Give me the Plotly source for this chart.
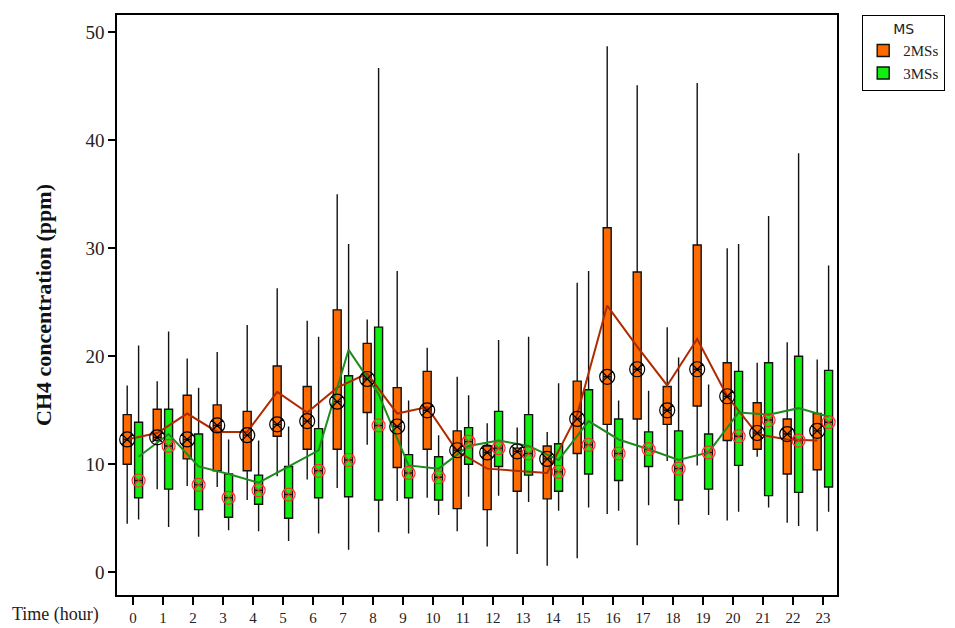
import plotly.graph_objects as go

hours = list(range(24))

# 2MSs (orange) box statistics
ms2_low = [4.5, 7.7, 8.0, 7.9, 6.7, 8.9, 8.6, 7.8, 11.8, 6.6, 6.9, 3.8, 2.4, 1.7, 0.6, 1.3, 5.4, 2.5, 10.3, 9.9, 4.8, 10.7, 4.6, 3.8]
ms2_q1 = [10.0, 12.2, 10.5, 9.4, 9.4, 12.6, 11.4, 11.4, 14.8, 9.7, 11.4, 5.9, 5.8, 7.5, 6.8, 11.0, 13.7, 14.2, 13.7, 15.4, 12.2, 11.4, 9.1, 9.5]
ms2_q3 = [14.6, 15.1, 16.4, 15.5, 14.9, 19.1, 17.2, 24.3, 21.2, 17.1, 18.6, 13.1, 11.7, 11.5, 11.7, 17.7, 31.9, 27.8, 17.2, 30.3, 19.4, 15.7, 14.2, 14.7]
ms2_high = [17.3, 17.7, 19.8, 20.4, 22.9, 26.3, 23.3, 35.0, 23.4, 27.9, 20.8, 18.1, 13.8, 13.4, 13.0, 26.8, 48.7, 45.1, 22.7, 45.3, 30.0, 19.4, 21.3, 19.7]
ms2_mark = [12.3, 12.5, 12.3, 13.6, 12.7, 13.7, 14.0, 15.8, 17.9, 13.5, 15.0, 11.3, 11.1, 11.2, 10.5, 14.2, 18.1, 18.8, 15.0, 18.8, 16.3, 12.9, 12.8, 13.1]
ms2_line = [12.3, 12.9, 14.7, 13.0, 13.0, 16.7, 14.8, 17.1, 18.4, 14.7, 15.3, 11.2, 9.6, 9.4, 9.2, 14.6, 24.7, 20.9, 17.3, 21.6, 16.3, 12.8, 12.3, 12.2]

# 3MSs (green) box statistics
ms3_low = [4.9, 4.2, 3.3, 3.9, 3.8, 2.9, 3.6, 2.1, 3.7, 3.6, 5.3, 7.0, 7.1, 6.5, 5.7, 6.0, 5.7, 6.2, 4.4, 5.3, 5.6, 6.0, 4.3, 5.6]
ms3_q1 = [6.9, 7.7, 5.8, 5.1, 6.3, 5.0, 6.9, 7.0, 6.7, 6.9, 6.7, 10.0, 9.8, 9.0, 7.5, 9.1, 8.5, 9.8, 6.7, 7.7, 9.9, 7.1, 7.4, 7.9]
ms3_q3 = [13.9, 15.1, 12.8, 9.1, 9.0, 9.8, 13.3, 18.2, 22.7, 10.9, 10.7, 13.4, 14.9, 14.6, 11.9, 16.9, 14.2, 13.0, 13.1, 12.8, 18.6, 19.4, 20.0, 18.7]
ms3_high = [21.0, 22.3, 17.1, 12.3, 12.2, 13.5, 21.8, 30.4, 46.7, 15.9, 12.7, 16.4, 21.5, 21.8, 17.5, 27.9, 15.9, 16.8, 19.9, 17.4, 30.4, 33.0, 38.8, 28.4]
ms3_mark = [8.5, 11.7, 8.1, 6.9, 7.6, 7.2, 9.4, 10.4, 13.6, 9.2, 8.8, 12.1, 11.5, 11.0, 9.3, 11.8, 11.0, 11.4, 9.6, 11.1, 12.6, 14.1, 12.2, 13.9]
ms3_line = [10.7, 12.8, 9.8, 9.1, 8.3, 9.8, 11.3, 20.6, 16.5, 9.9, 9.6, 11.7, 12.2, 11.7, 10.4, 14.0, 12.3, 11.4, 10.4, 11.1, 14.8, 14.6, 15.2, 14.4]

y_ticks = [0, 10, 20, 30, 40, 50]

SERIF = "Liberation Serif"

fig = go.Figure()

fig.add_trace(go.Box(
    x=hours, q1=ms2_q1, median=ms2_mark, q3=ms2_q3,
    lowerfence=ms2_low, upperfence=ms2_high,
    name="2MSs", offsetgroup="a", boxpoints=False, whiskerwidth=0,
    fillcolor="#FF6A00", line=dict(color="#111", width=1.4),
    hoverinfo="skip",
))
fig.add_trace(go.Box(
    x=hours, q1=ms3_q1, median=ms3_mark, q3=ms3_q3,
    lowerfence=ms3_low, upperfence=ms3_high,
    name="3MSs", offsetgroup="b", boxpoints=False, whiskerwidth=0,
    fillcolor="#12EE12", line=dict(color="#111", width=1.4),
    hoverinfo="skip",
))

fig.add_trace(go.Scatter(
    x=hours, y=ms2_line, mode="lines", offsetgroup="a",
    line=dict(color="#B02A00", width=2), showlegend=False, hoverinfo="skip",
))
fig.add_trace(go.Scatter(
    x=hours, y=ms3_line, mode="lines", offsetgroup="b",
    line=dict(color="#1C8C1C", width=2), showlegend=False, hoverinfo="skip",
))
fig.add_trace(go.Scatter(
    x=hours, y=ms2_mark, mode="markers", offsetgroup="a",
    marker=dict(symbol="circle-x-open", size=15, color="black", line=dict(width=1.2)),
    showlegend=False, hoverinfo="skip",
))
fig.add_trace(go.Scatter(
    x=hours, y=ms3_mark, mode="markers", offsetgroup="b",
    marker=dict(symbol="circle-x-open", size=13, color="#FF3030", line=dict(width=1.2)),
    showlegend=False, hoverinfo="skip",
))

# page body adds an 8px margin, so the figure is 8px smaller and margins shifted
fig.update_layout(
    width=947, height=620,
    margin=dict(l=109, r=118, t=7, b=33, autoexpand=False),
    paper_bgcolor="white", plot_bgcolor="white",
    boxmode="group", boxgap=0.24, boxgroupgap=0.3,
    scattermode="group", scattergap=0.24,
    showlegend=True,
    legend=dict(
        x=1.035, y=1.0, xanchor="left", yanchor="top",
        bordercolor="black", borderwidth=1, bgcolor="white",
        title=dict(text="MS", side="top center", font=dict(family="DejaVu Sans", size=14, color="#222")),
        font=dict(family=SERIF, size=15, color="#222"),
        tracegroupgap=2,
    ),
    font=dict(family=SERIF, color="#222"),
)

fig.update_xaxes(
    range=[-0.53, 23.47], tickmode="array", tickvals=hours,
    ticktext=[str(h) for h in hours], automargin=False,
    showline=True, linecolor="black", linewidth=1.5, mirror=True,
    ticks="outside", ticklen=8, tickcolor="black", tickwidth=1.5,
    showgrid=False, zeroline=False,
    tickfont=dict(family=SERIF, size=15, color="#222"),
)
fig.update_yaxes(
    range=[-2.1, 51.6], tickmode="array", tickvals=y_ticks, automargin=False,
    showline=True, linecolor="black", linewidth=1.5, mirror=True,
    ticks="outside", ticklen=7, tickcolor="black", tickwidth=1.5,
    showgrid=False, zeroline=False,
    tickfont=dict(family=SERIF, size=19, color="#222"),
    title=dict(text="<b>CH4 concentration (ppm)</b>", standoff=28,
               font=dict(family=SERIF, size=22, color="#111")),
)

fig.add_annotation(
    text="Time (hour)", xref="paper", yref="paper",
    x=-0.086, y=-0.034, xanchor="center", yanchor="middle",
    showarrow=False, font=dict(family=SERIF, size=18, color="#222"),
)

fig.write_html("out.html")
